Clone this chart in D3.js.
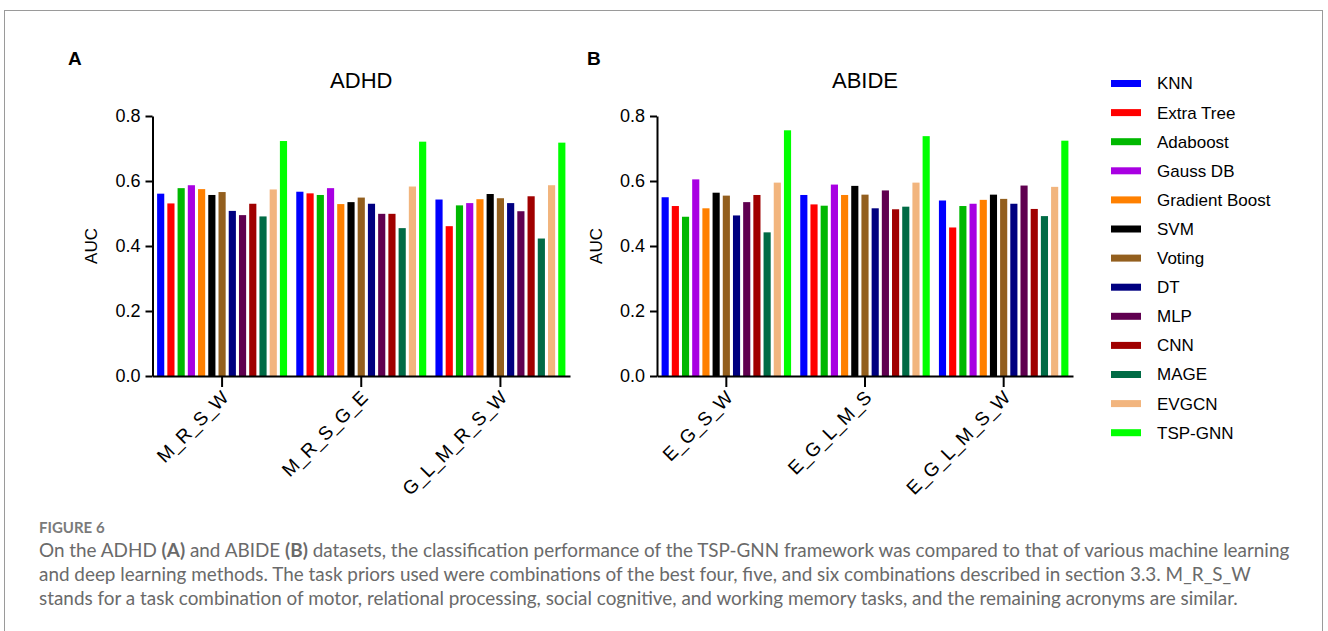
<!DOCTYPE html>
<html>
<head>
    <title>Figure 6</title>
    <style>
        body {
            margin: 0;
            padding: 0;
            background: #ffffff;
        }
        svg text {
            font-family: "Liberation Sans", Arial, sans-serif;
        }
        .axis path, .axis line {
            stroke: #000000;
            stroke-width: 2;
        }
        .axis text {
            fill: #000000;
        }
        .caption {
            font-family: Lato, "Open Sans", sans-serif !important;
            fill: #6a6a6a;
        }
    </style>
</head>
<body>
    <svg id="chart" width="1328" height="631"></svg>

    <script src="https://d3js.org/d3.v7.min.js"></script>
    <script>
        // methods (legend order) and their bar colours
        const methods = ['KNN', 'Extra Tree', 'Adaboost', 'Gauss DB', 'Gradient Boost', 'SVM',
                         'Voting', 'DT', 'MLP', 'CNN', 'MAGE', 'EVGCN', 'TSP-GNN'];
        const methodColors = ['#0000ff', '#ff0000', '#00b800', '#a800e2', '#ff8000', '#000000',
                              '#935f1e', '#000080', '#600050', '#a00000', '#006b45', '#f2b57e', '#00ff00'];

        const yTicks = [0.0, 0.2, 0.4, 0.6, 0.8];

        // ADHD task combinations and AUC per method
        const adhdGroups = ['M_R_S_W', 'M_R_S_G_E', 'G_L_M_R_S_W'];
        const adhdAUC = [
            [0.561, 0.531, 0.578, 0.587, 0.575, 0.557, 0.566, 0.508, 0.495, 0.530, 0.491, 0.574, 0.723],
            [0.567, 0.562, 0.557, 0.578, 0.529, 0.535, 0.549, 0.530, 0.499, 0.499, 0.455, 0.583, 0.721],
            [0.543, 0.461, 0.525, 0.532, 0.544, 0.560, 0.547, 0.532, 0.507, 0.553, 0.423, 0.587, 0.718]
        ];

        // ABIDE task combinations and AUC per method
        const abideGroups = ['E_G_S_W', 'E_G_L_M_S', 'E_G_L_M_S_W'];
        const abideAUC = [
            [0.550, 0.523, 0.490, 0.605, 0.516, 0.564, 0.555, 0.494, 0.535, 0.557, 0.442, 0.595, 0.756],
            [0.557, 0.528, 0.524, 0.589, 0.557, 0.585, 0.558, 0.516, 0.571, 0.513, 0.521, 0.595, 0.738],
            [0.540, 0.457, 0.523, 0.530, 0.542, 0.558, 0.545, 0.530, 0.586, 0.514, 0.492, 0.582, 0.724]
        ];

        const captionLines = [
            'and deep learning methods. The task priors used were combinations of the best four, five, and six combinations described in section 3.3. M_R_S_W',
            'stands for a task combination of motor, relational processing, social cognitive, and working memory tasks, and the remaining acronyms are similar.'
        ];

        const svg = d3.select('#chart');

        // figure frame
        svg.append('rect')
            .attr('x', 4.5).attr('y', 10.5)
            .attr('width', 1318).attr('height', 700)
            .attr('fill', 'none')
            .attr('stroke', '#9a9a9a')
            .attr('stroke-width', 1);

        const y = d3.scaleLinear().domain([0, 0.8]).range([376, 116]);
        const color = d3.scaleOrdinal().domain(methods).range(methodColors);

        function drawPanel(letter, title, groups, values, xRange, letterX) {
            const g = svg.append('g');

            const x0 = d3.scaleBand().domain(groups).range(xRange);
            const x1 = d3.scaleBand().domain(methods)
                .range([0, x0.bandwidth()])
                .paddingInner(0.3)
                .paddingOuter(0.45);

            // bars
            const grp = g.selectAll('.group')
                .data(groups)
                .join('g')
                .attr('transform', d => `translate(${x0(d)},0)`);

            grp.selectAll('rect')
                .data((d, i) => methods.map((m, j) => ({ method: m, value: values[i][j] })))
                .join('rect')
                .attr('x', d => x1(d.method))
                .attr('width', x1.bandwidth())
                .attr('y', d => y(d.value))
                .attr('height', d => y(0) - y(d.value))
                .attr('fill', d => color(d.method));

            // y axis
            g.append('g')
                .attr('class', 'axis')
                .attr('transform', `translate(${xRange[0]},0)`)
                .call(d3.axisLeft(y).tickValues(yTicks).tickFormat(d3.format('.1f'))
                    .tickSize(7).tickSizeOuter(0).tickPadding(5))
                .selectAll('text')
                .style('font-size', '18px');

            // x axis
            const xa = g.append('g')
                .attr('class', 'axis')
                .attr('transform', `translate(0,${y(0)})`)
                .call(d3.axisBottom(x0).tickSize(11).tickSizeOuter(0));

            xa.selectAll('text')
                .attr('x', 0).attr('y', 0)
                .attr('dy', '0.35em')
                .attr('text-anchor', 'end')
                .attr('transform', 'translate(3,18) rotate(-45)')
                .style('font-size', '19px');

            // y label
            g.append('text')
                .attr('transform', `translate(${xRange[0] - 61},${(y(0) + y(0.8)) / 2}) rotate(-90)`)
                .attr('text-anchor', 'middle')
                .attr('dy', '0.35em')
                .style('font-size', '17px')
                .text('AUC');

            // title
            g.append('text')
                .attr('x', (xRange[0] + xRange[1]) / 2)
                .attr('y', 88)
                .attr('text-anchor', 'middle')
                .style('font-size', '22px')
                .text(title);

            // panel letter
            g.append('text')
                .attr('x', letterX)
                .attr('y', 65)
                .style('font-size', '19px')
                .style('font-weight', 'bold')
                .text(letter);
        }

        drawPanel('A', 'ADHD', adhdGroups, adhdAUC, [152.5, 570], 68);
        drawPanel('B', 'ABIDE', abideGroups, abideAUC, [657, 1073], 587);

        // legend
        const ly = d3.scalePoint().domain(methods).range([83.5, 432.7]);
        const legend = svg.append('g');
        legend.selectAll('rect')
            .data(methods)
            .join('rect')
            .attr('x', 1111)
            .attr('y', d => ly(d) - 3.5)
            .attr('width', 30)
            .attr('height', 7)
            .attr('fill', d => color(d));
        legend.selectAll('text')
            .data(methods)
            .join('text')
            .attr('x', 1157)
            .attr('y', d => ly(d))
            .attr('dy', '0.35em')
            .style('font-size', '17px')
            .text(d => d);

        // caption
        svg.append('text')
            .attr('class', 'caption')
            .attr('x', 39).attr('y', 533)
            .style('font-size', '15px')
            .style('font-weight', 'bold')
            .style('fill', '#7a7a7a')
            .text('FIGURE 6');

        const line1 = svg.append('text')
            .attr('class', 'caption')
            .attr('x', 39).attr('y', 557)
            .style('font-size', '18.9px');
        [['On the ADHD ', false], ['(A)', true], [' and ABIDE ', false], ['(B)', true],
         [' datasets, the classification performance of the TSP-GNN framework was compared to that of various machine learning', false]]
            .forEach(([t, b]) => {
                line1.append('tspan').style('font-weight', b ? 'bold' : 'normal').text(t);
            });

        svg.selectAll('.capline')
            .data(captionLines)
            .join('text')
            .attr('class', 'caption capline')
            .attr('x', 39)
            .attr('y', (d, i) => 581 + i * 23.5)
            .style('font-size', '18.9px')
            .text(d => d);
    </script>
</body>
</html>
